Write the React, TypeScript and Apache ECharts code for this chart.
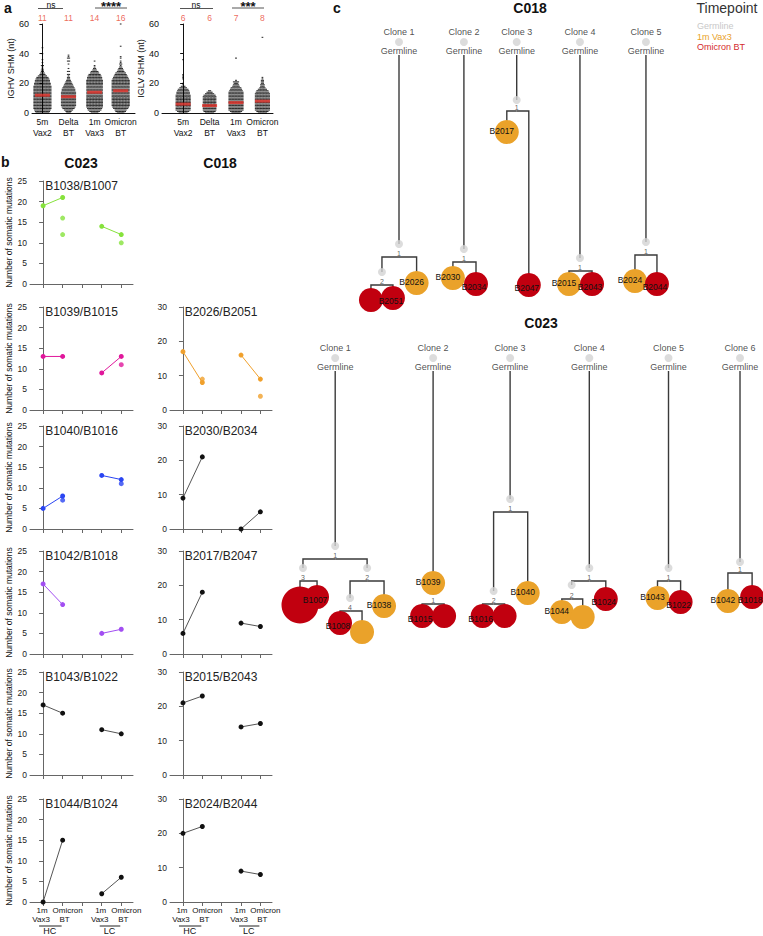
import React, { useEffect, useRef } from "react";
import * as echarts from "echarts";

const FONT = "'Liberation Sans', Arial, Helvetica, sans-serif";
const RED = "#c1000f";
const ORANGE = "#eaa22a";
const GRAY = "#d3d3d3";

// ---------------- Panel a data ----------------
const shmGroups = ["5m\nVax2", "Delta\nBT", "1m\nVax3", "Omicron\nBT"];
// dots per SHM value (index = nt), read from row widths
const ighv5mVax2 = [9,10,11,12,12,12,12,12,12,12, 12,12,12,12,12,12,12,12,12,11, 11,10,10,9,8,6,4,3,2,2, 1,1,2,0,1,0,1,0,0,0, 1,0,0,0,1];
const ighvDeltaBT = [3,4,6,8,9,10,10,10,10,10, 10,10,10,10,10,9,9,8,7,6, 5,4,3,2,2,1,2,0,2,0, 1,0,0,1,0,2,0,2,1,1];
const ighv1mVax3 = [5,7,9,10,11,11,11,11,11,11, 11,11,11,11,11,11,11,11,11,11, 11,11,11,10,10,9,8,6,5,3, 2,1,1,0,0,1];
const ighvOmicronBT = [5,7,8,10,11,12,12,12,12,12, 12,12,12,12,12,12,12,12,12,12, 12,12,12,11,10,9,8,7,5,4, 3,2,1,2,1,1,0,1,1,0, 0,0,0,0,0,1,0,0,0,0, 0,0,0,0,0,0,0,0,0,0, 1];
const iglv5mVax2 = [6,8,10,10,10,10,10,10,10,10, 10,10,10,9,9,8,7,5,3,1, 1,0,0,1,1,1,1,0,0,0, 0,0,0,0,0,0,1];
const iglvDeltaBT = [6,8,9,9,9,9,9,9,9,9, 9,9,8,6,4,2];
const iglv1mVax3 = [6,8,10,10,10,10,10,10,10,10, 10,10,10,10,10,9,8,7,5,4, 3,4,1,0,0,0,0,0,0,0, 0,0,0,0,0,0,0,1];
const iglvOmicronBT = [6,8,10,10,10,10,10,10,10,10, 10,10,10,10,9,8,6,4,3,3, 2,2,2,1,1,0,0,0,0,0, 0,0,0,0,0,0,0,0,0,0, 0,0,0,0,0,0,0,0,0,0, 0,1];
const ighvMedians = [12, 11, 14, 15];
const iglvMedians = [6, 5, 7, 8];
const ighvCountLabels = [11, 11, 14, 16];
const iglvCountLabels = [6, 6, 7, 8];

// ---------------- Panel b data ----------------
const bXTop = ["1m", "Omicron"];
const bXBottom = ["Vax3", "BT"];
const c023Pairs = ["B1038/B1007", "B1039/B1015", "B1040/B1016", "B1042/B1018", "B1043/B1022", "B1044/B1024"];
const c023Colors = ["#86e23c", "#e0179b", "#2a45f2", "#a24ef2", "#111111", "#111111"];
const c023Hc1m = [19, 13, 5, 17, 17, 0];
const c023HcBT = [[21, 16, 12], [13], [8, 7], [12], [15], [15]];
const c023Lc1m = [14, 9, 13, 5, 11, 2];
const c023LcBT = [[12, 10], [13, 11], [12, 11], [6], [10], [6]];
const c018Pairs = ["B2026/B2051", "B2030/B2034", "B2017/B2047", "B2015/B2043", "B2024/B2044"];
const c018Colors = ["#f0a02c", "#111111", "#111111", "#111111", "#111111"];
const c018Hc1m = [17, 9, 6, 21, 20];
const c018HcBT = [[8, 9], [21], [18], [23], [22]];
const c018Lc1m = [16, 0, 9, 14, 9];
const c018LcBT = [[9, 4], [5], [8], [15], [8]];

// ---------------- Panel c data (tree layout: x = column unit, d = depth unit) ----------------
type TNode = { id: string; parent?: string; x: number; d: number; kind: "germ" | "int" | "vax" | "bt"; name?: string; mut?: number; bar?: number; n?: number; clone?: number };
const c018Nodes: TNode[] = [
  { id: "1g", x: 9.0, d: 0, kind: "germ", clone: 1 },
  { id: "1a", parent: "1g", x: 9.0, d: 20.2, kind: "int", mut: 1, bar: 21.5 },
  { id: "1b", parent: "1a", x: 7.45, d: 23.0, kind: "int", mut: 2, bar: 24.3 },
  { id: "1c", parent: "1b", x: 6.45, d: 25.8, kind: "bt", n: 1 },
  { id: "1d", parent: "1b", x: 8.45, d: 25.6, kind: "bt", name: "B2051", n: 1 },
  { id: "1e", parent: "1a", x: 10.6, d: 24.1, kind: "vax", name: "B2026", n: 1 },
  { id: "2g", x: 14.9, d: 0, kind: "germ", clone: 2 },
  { id: "2a", parent: "2g", x: 14.9, d: 20.7, kind: "int", mut: 1, bar: 22.0 },
  { id: "2b", parent: "2a", x: 13.9, d: 23.6, kind: "vax", name: "B2030", n: 1 },
  { id: "2c", parent: "2a", x: 16.0, d: 24.2, kind: "bt", name: "B2034", n: 1 },
  { id: "3g", x: 19.7, d: 0, kind: "germ", clone: 3 },
  { id: "3a", parent: "3g", x: 19.7, d: 5.8, kind: "int", mut: 1, bar: 6.9 },
  { id: "3b", parent: "3a", x: 18.8, d: 9.0, kind: "vax", name: "B2017", n: 1 },
  { id: "3c", parent: "3a", x: 20.8, d: 24.3, kind: "bt", name: "B2047", n: 1 },
  { id: "4g", x: 25.45, d: 0, kind: "germ", clone: 4 },
  { id: "4a", parent: "4g", x: 25.45, d: 21.6, kind: "int", mut: 1, bar: 22.9 },
  { id: "4b", parent: "4a", x: 24.45, d: 24.2, kind: "vax", name: "B2015", n: 1 },
  { id: "4c", parent: "4a", x: 26.55, d: 24.2, kind: "bt", name: "B2043", n: 1 },
  { id: "5g", x: 31.45, d: 0, kind: "germ", clone: 5 },
  { id: "5a", parent: "5g", x: 31.45, d: 20.0, kind: "int", mut: 1, bar: 21.3 },
  { id: "5b", parent: "5a", x: 30.45, d: 23.9, kind: "vax", name: "B2024", n: 1 },
  { id: "5c", parent: "5a", x: 32.45, d: 24.2, kind: "bt", name: "B2044", n: 1 },
];
const c023Nodes: TNode[] = [
  { id: "1g", x: 3.2, d: 0, kind: "germ", clone: 1 },
  { id: "1a", parent: "1g", x: 3.2, d: 18.8, kind: "int", mut: 1, bar: 20.1 },
  { id: "1b", parent: "1a", x: 0.27, d: 21.0, kind: "int", mut: 3, bar: 22.3 },
  { id: "1c", parent: "1b", x: 0.0, d: 24.7, kind: "bt", n: 3 },
  { id: "1d", parent: "1b", x: 1.55, d: 23.9, kind: "bt", name: "B1007", n: 1 },
  { id: "1e", parent: "1a", x: 6.1, d: 21.0, kind: "int", mut: 2, bar: 22.3 },
  { id: "1f", parent: "1e", x: 4.55, d: 24.0, kind: "int", mut: 4, bar: 25.3 },
  { id: "1h", parent: "1f", x: 3.64, d: 26.5, kind: "bt", name: "B1008", n: 1 },
  { id: "1i", parent: "1f", x: 5.64, d: 27.4, kind: "vax", n: 1 },
  { id: "1j", parent: "1e", x: 7.64, d: 24.8, kind: "vax", name: "B1038", n: 1 },
  { id: "2g", x: 12.1, d: 0, kind: "germ", clone: 2 },
  { id: "2a", parent: "2g", x: 12.1, d: 22.5, kind: "vax", name: "B1039", n: 1, mut: 1, bar: 24.6 },
  { id: "2b", parent: "2a", x: 11.1, d: 25.8, kind: "bt", name: "B1015", n: 1 },
  { id: "2c", parent: "2a", x: 13.1, d: 25.8, kind: "bt", n: 1 },
  { id: "3g", x: 19.1, d: 0, kind: "germ", clone: 3 },
  { id: "3a", parent: "3g", x: 19.1, d: 14.1, kind: "int", mut: 1, bar: 15.4 },
  { id: "3b", parent: "3a", x: 17.6, d: 23.3, kind: "int", mut: 2, bar: 24.6 },
  { id: "3c", parent: "3b", x: 16.6, d: 25.8, kind: "bt", name: "B1016", n: 1 },
  { id: "3d", parent: "3b", x: 18.6, d: 25.8, kind: "bt", n: 1 },
  { id: "3e", parent: "3a", x: 20.7, d: 23.5, kind: "vax", name: "B1040", n: 1 },
  { id: "4g", x: 26.3, d: 0, kind: "germ", clone: 4 },
  { id: "4a", parent: "4g", x: 26.3, d: 21.0, kind: "int", mut: 1, bar: 22.3 },
  { id: "4b", parent: "4a", x: 24.7, d: 22.7, kind: "int", mut: 2, bar: 24.1 },
  { id: "4c", parent: "4b", x: 23.8, d: 25.4, kind: "vax", name: "B1044", n: 1 },
  { id: "4d", parent: "4b", x: 25.7, d: 25.9, kind: "vax", n: 1 },
  { id: "4e", parent: "4a", x: 27.8, d: 24.1, kind: "bt", name: "B1024", n: 1 },
  { id: "5g", x: 33.5, d: 0, kind: "germ", clone: 5 },
  { id: "5a", parent: "5g", x: 33.5, d: 21.0, kind: "int", mut: 1, bar: 22.3 },
  { id: "5b", parent: "5a", x: 32.5, d: 24.0, kind: "vax", name: "B1043", n: 1 },
  { id: "5c", parent: "5a", x: 34.6, d: 24.4, kind: "bt", name: "B1022", n: 1 },
  { id: "6g", x: 40.0, d: 0, kind: "germ", clone: 6 },
  { id: "6a", parent: "6g", x: 40.0, d: 20.4, kind: "int", mut: 1, bar: 21.5 },
  { id: "6b", parent: "6a", x: 38.9, d: 24.3, kind: "vax", name: "B1042", n: 1 },
  { id: "6c", parent: "6a", x: 41.1, d: 23.9, kind: "bt", name: "B1018", n: 1 },
];
const legendItems = ["Germline", "1m Vax3", "Omicron BT"];

function swarm(countsList: number[][], dx: number) {
  const pts: number[][] = [];
  countsList.forEach((counts, g) => {
    counts.forEach((n, v) => {
      for (let k = 0; k < n; k++) pts.push([g + (k - (n - 1) / 2) * dx, v]);
    });
  });
  return pts;
}

function buildOption() {
  const grid: any[] = [];
  const xAxis: any[] = [];
  const yAxis: any[] = [];
  const series: any[] = [];
  const graphic: any[] = [];
  const addGrid = (g: any, x: any, y: any) => {
    grid.push(g);
    const i = grid.length - 1;
    xAxis.push({ ...x, gridIndex: i });
    yAxis.push({ ...y, gridIndex: i });
    return i;
  };
  const txt = (text: string, x: number, y: number, o: any = {}) =>
    graphic.push({ type: "text", x, y, silent: true, style: { text, fill: o.fill || "#111", fontSize: o.size || 9, fontWeight: o.bold ? "bold" : "normal", fontFamily: FONT, textAlign: o.align || "center", textVerticalAlign: "middle" } });
  const seg = (x1: number, y1: number, x2: number, y2: number, color = "#444") =>
    graphic.push({ type: "line", silent: true, shape: { x1, y1, x2, y2 }, style: { stroke: color, lineWidth: 1 } });

  // ---------- Panel a ----------
  const aDefs = [
    { left: 32, width: 103, min: -0.4, max: 3.55, name: "IGHV SHM (nt)", counts: [ighv5mVax2, ighvDeltaBT, ighv1mVax3, ighvOmicronBT], med: ighvMedians, lab: ighvCountLabels },
    { left: 162, width: 111, min: -0.8, max: 3.4, name: "IGLV SHM (nt)", counts: [iglv5mVax2, iglvDeltaBT, iglv1mVax3, iglvOmicronBT], med: iglvMedians, lab: iglvCountLabels },
  ];
  aDefs.forEach((a) => {
    const gi = addGrid(
      { left: a.left, top: 24, width: a.width, height: 89 },
      { type: "value", min: a.min, max: a.max, splitLine: { show: false }, axisTick: { show: false },
        axisLine: { lineStyle: { color: "#111", width: 1 } },
        axisLabel: { customValues: [0, 1, 2, 3], hideOverlap: false, showMinLabel: true, showMaxLabel: true, formatter: (v: number) => shmGroups[Math.round(v)], fontSize: 8.5, lineHeight: 10.5, margin: 4, color: "#111" } },
      { type: "value", min: 0, max: 60, interval: 20, splitLine: { show: false },
        axisLine: { show: true, lineStyle: { color: "#111", width: 1 } }, axisTick: { show: true, length: 3, lineStyle: { color: "#111" } },
        axisLabel: { fontSize: 9, margin: 3, color: "#111" },
        name: a.name, nameLocation: "middle", nameGap: 17, nameTextStyle: { fontSize: 9, color: "#111" } }
    );
    const unit = a.width / (a.max - a.min);
    series.push({ type: "scatter", xAxisIndex: gi, yAxisIndex: gi, data: swarm(a.counts, 1.5 / unit), symbol: "rect", symbolSize: [1.7, 1.1], itemStyle: { color: "#000" }, silent: true, z: 2 });
    series.push({ type: "scatter", xAxisIndex: gi, yAxisIndex: gi, data: a.med.map((m, i) => [i, m]), symbol: "rect", symbolSize: [15, 3], itemStyle: { color: "#e4322b" }, silent: true, z: 3 });
    series.push({ type: "scatter", xAxisIndex: gi, yAxisIndex: gi, clip: false, data: a.lab.map((m, i) => [i, 64.05, m]), symbolSize: 0, silent: true, z: 3,
      itemStyle: { color: "rgba(0,0,0,0)" },
      label: { show: true, position: "inside", formatter: (p: any) => String(p.data[2]), color: "#e8432f", fontSize: 8.5, fontFamily: FONT } });
  });
  // significance annotations
  seg(38, 8.5, 63, 8.5, "#555"); txt("ns", 51, 4.5, { size: 8.5 });
  seg(95, 8, 127, 8, "#555"); txt("****", 111, 6.5, { size: 13, bold: true });
  seg(180, 8.5, 213, 8.5, "#555"); txt("ns", 196, 4.5, { size: 8.5 });
  seg(232, 8, 264, 8, "#555"); txt("***", 248, 6.5, { size: 13, bold: true });
  txt("a", 4, 7.5, { size: 14, bold: true, align: "left" });

  // ---------- Panel b ----------
  txt("b", 1, 162, { size: 14, bold: true, align: "left" });
  txt("C023", 81, 163, { size: 14, bold: true });
  txt("C018", 220, 163, { size: 14, bold: true });
  const rowBottoms = [284, 410, 529, 654, 775, 902];
  const plotH = 103;
  const xMin = -0.67, xMax = 4.6;
  const addPlot = (col: number, row: number, title: string, color: string, hc1m: number, hcBT: number[], lc1m: number, lcBT: number[]) => {
    const left = col === 0 ? 30 : 170;
    const width = col === 0 ? 103 : 102;
    const top = rowBottoms[row] - plotH;
    const yMax = col === 0 ? 25 : 30;
    const last = row === 5;
    const gi = addGrid(
      { left, top, width, height: plotH },
      { type: "value", min: xMin, max: xMax, splitLine: { show: false },
        axisLine: { lineStyle: { color: "#666", width: 1 } },
        axisTick: { customValues: [0, 1, 2, 3, 4], length: 4, lineStyle: { color: "#666" } },
        axisLabel: { show: false } },
      { type: "value", min: 0, max: yMax, interval: col === 0 ? 5 : 10, splitLine: { show: false },
        axisLine: { show: true, lineStyle: { color: "#666", width: 1 } }, axisTick: { show: true, length: 4, lineStyle: { color: "#666" } },
        axisLabel: { fontSize: 8.5, margin: 3, color: "#222" },
        ...(col === 0 ? { name: "Number of somatic mutations", nameLocation: "middle", nameGap: 17, nameTextStyle: { fontSize: 8.5, color: "#111" } } : {}) }
    );
    const lineColor = color === "#111111" ? "#555" : color;
    const common = { xAxisIndex: gi, yAxisIndex: gi, symbol: "circle", symbolSize: 5, silent: true, itemStyle: { color } };
    series.push({ type: "line", ...common, data: [[0, hc1m], [1, hcBT[0]]], lineStyle: { color: lineColor, width: 1 } });
    series.push({ type: "line", ...common, data: [[3, lc1m], [4, lcBT[0]]], lineStyle: { color: lineColor, width: 1 } });
    const extra = [...hcBT.slice(1).map((v) => [1, v]), ...lcBT.slice(1).map((v) => [4, v])];
    if (extra.length) series.push({ type: "scatter", ...common, data: extra });
    txt(title, left + width / 2, top + 5, { size: 12, fill: "#222" });
    if (last) {
      const px = (v: number) => left + ((v - xMin) / (xMax - xMin)) * width;
      [0, 3].forEach((t0) => {
        txt(bXTop[0], px(t0) - 1, 910, { size: 8 });
        txt(bXBottom[0], px(t0) - 2, 919, { size: 8 });
        txt(bXTop[1], px(t0 + 1) + 5, 910, { size: 8 });
        txt(bXBottom[1], px(t0 + 1) + 2, 919, { size: 8 });
      });
      seg(px(0) - 4, 926, px(1) - 1, 926, "#222"); txt("HC", (px(0) + px(1)) / 2 - 3, 931, { size: 9 });
      seg(px(3) - 2, 926, px(4) - 1, 926, "#222"); txt("LC", (px(3) + px(4)) / 2 - 2, 931, { size: 9 });
    }
  };
  c023Pairs.forEach((t, i) => addPlot(0, i, t, c023Colors[i], c023Hc1m[i], c023HcBT[i], c023Lc1m[i], c023LcBT[i]));
  c018Pairs.forEach((t, i) => addPlot(1, i + 1, t, c018Colors[i], c018Hc1m[i], c018HcBT[i], c018Lc1m[i], c018LcBT[i]));

  // ---------- Panel c ----------
  txt("c", 337, 8, { size: 14, bold: true });
  txt("C018", 530, 8, { size: 14, bold: true });
  txt("C023", 541, 323, { size: 14, bold: true });
  txt("Timepoint", 727, 8, { size: 14, fill: "#333" });
  const legendColors = ["#c8c8c8", "#e9a22a", "#d42a2e"];
  legendItems.forEach((t, i) => txt(t, 697, 26 + i * 10.5, { size: 9, fill: legendColors[i], align: "left" }));

  const addTree = (nodes: TNode[], top: number) => {
    const gi = addGrid(
      { left: 300, top, width: 463, height: 300 },
      { type: "value", min: 0, max: 42.09, show: false },
      { type: "value", min: 0, max: 30, inverse: true, show: false }
    );
    const byId = new Map(nodes.map((n) => [n.id, n]));
    const edges = nodes.filter((n) => n.parent).map((n) => {
      const p = byId.get(n.parent!)!;
      if (p.kind === "germ") return { coords: [[p.x, 1.3], [n.x, n.d]] };
      return { coords: [[p.x, p.bar!], [n.x, p.bar!], [n.x, n.d]] };
    });
    const ax = { xAxisIndex: gi, yAxisIndex: gi, silent: true };
    series.push({ type: "lines", coordinateSystem: "cartesian2d", ...ax, polyline: true, data: edges, lineStyle: { color: "#3a3a3a", width: 1.4, opacity: 1 }, z: 1 });
    series.push({ type: "scatter", ...ax, clip: false, z: 2, symbolSize: 8, itemStyle: { color: GRAY },
      data: nodes.filter((n) => n.kind === "germ").map((n) => [n.x, n.d, n.clone]),
      label: { show: true, position: "inside", offset: [0, -1], formatter: (p: any) => `{a|Clone ${p.data[2]}}\n{a|Germline}`, rich: { a: { fontSize: 9, lineHeight: 19, color: "#222", fontFamily: FONT } } } });
    series.push({ type: "scatter", ...ax, clip: false, z: 2, symbolSize: 8, itemStyle: { color: GRAY },
      data: nodes.filter((n) => n.kind === "int").map((n) => [n.x, n.d]) });
    (["vax", "bt"] as const).forEach((k) => {
      series.push({ type: "scatter", ...ax, clip: false, z: 3, itemStyle: { color: k === "vax" ? ORANGE : RED, opacity: 1 },
        data: nodes.filter((n) => n.kind === k).map((n) => [n.x, n.d, n.name || "", n.n || 1]),
        symbolSize: (v: any) => (v[3] > 1 ? 37 : 24),
        label: { show: true, position: "inside", offset: k === "vax" ? [-5, -1] : [-2, 3], formatter: (p: any) => p.data[2], fontSize: 8.5, color: "#111", fontFamily: FONT } });
    });
    series.push({ type: "scatter", ...ax, clip: false, z: 4, symbolSize: 0, itemStyle: { color: "rgba(0,0,0,0)" },
      data: nodes.filter((n) => n.mut).map((n) => [n.x, n.bar! - 0.4, n.mut]),
      label: { show: true, position: "inside", formatter: (p: any) => String(p.data[2]), fontSize: 7, color: "#333", fontFamily: FONT } });
  };
  addTree(c018Nodes, 42);
  addTree(c023Nodes, 358);

  return { animation: false, backgroundColor: "#fff", textStyle: { fontFamily: FONT }, grid, xAxis, yAxis, series, graphic };
}

export default function App() {
  const ref = useRef<HTMLDivElement>(null);
  useEffect(() => {
    document.body.style.margin = "0";
    const chart = echarts.init(ref.current!, undefined, { renderer: "svg" });
    chart.setOption(buildOption() as any);
    return () => chart.dispose();
  }, []);
  return <div ref={ref} style={{ position: "absolute", left: 0, top: 0, width: 763, height: 936, background: "#fff" }} />;
}
